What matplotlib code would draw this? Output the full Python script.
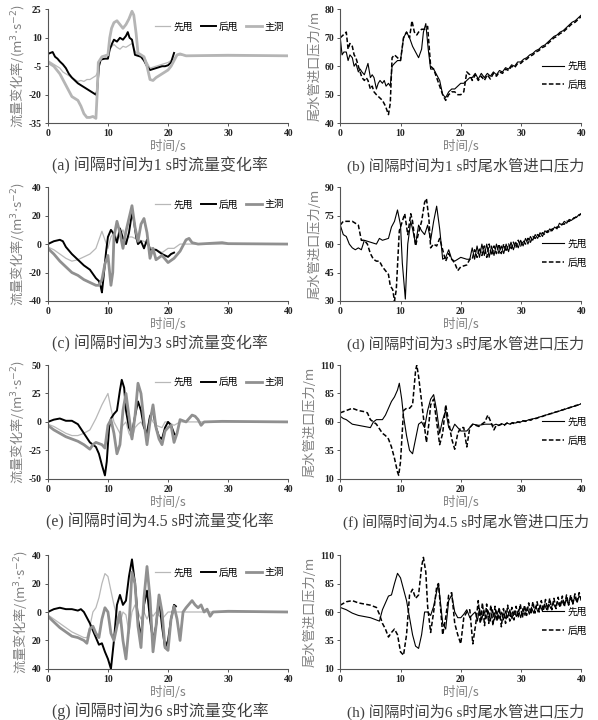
import numpy as np
import matplotlib
matplotlib.use("Agg")
import matplotlib.pyplot as plt

plt.rcParams['font.family'] = ['Noto Sans CJK SC', 'DejaVu Sans']
plt.rcParams['axes.unicode_minus'] = False

# ---- data: (t [s], value) ----
a_first = [(0,-2),(0.5,-3),(1,-4),(1.5,-5),(2,-6),(2.5,-8),(3,-9),(3.5,-10),(4,-11),(4.5,-12),(5,-13),
           (5.5,-12.5),(6,-13),(6.5,-12),(7,-12),(7.5,-11),(8,-10),(8.3,-8),(8.6,-2),(9,0),(9.5,0.5),(10,1),
           (10.5,5),(11,6.5),(11.5,5),(12,4),(12.5,5.5),(13,5),(13.5,6),(14,7),(14.5,3),(15,1),(15.5,0.5),
           (16,0),(16.5,-3),(17,-6),(17.5,-5.5),(18,-5),(18.5,-4.5),(19,-4),(19.5,-3.5),(20,-3),(20.5,-2),
           (21,-1),(21.5,1),(22,1),(23,0.5),(40,0.5)]
a_second = [(0,1.5),(0.4,2),(0.8,2.5),(1.2,0),(1.6,-1),(2,-2.5),(2.5,-4),(3,-6),(3.5,-9),(4,-11),(4.5,-12.5),
            (5,-14),(5.5,-15),(6,-16),(6.5,-17),(7,-18),(7.5,-19),(8,-20),(8.2,-18),(8.5,-5),(8.8,-1.5),
            (9.5,-1),(10,-1),(10.3,4),(10.7,7),(11,9),(11.5,8),(12,10),(12.5,9),(13,11),(13.3,13),(13.6,10),
            (14,9),(14.5,1),(15,0.5),(15.5,0),(16,-2),(16.5,-5),(17,-7),(17.5,-6.5),(18,-6),(18.5,-5.5),
            (19,-5),(19.5,-5),(20,-4.5),(20.5,-3),(21,2)]
a_main = [(0,-3),(0.5,-4),(1,-5),(1.5,-7),(2,-9),(2.5,-12),(3,-15),(3.5,-18),(4,-21),(4.5,-22),(5,-23),
          (5.5,-26),(6,-30),(6.5,-32),(7,-32),(7.5,-31.5),(8,-32.5),(8.2,-20),(8.4,-3),(9,0),(9.5,0.5),(10,1),
          (10.3,10),(10.6,15),(11,18),(11.5,19),(12,17),(12.5,15),(13,17),(13.5,20),(14,24),(14.3,22),
          (14.7,12),(15,2),(15.5,1),(16,0),(16.5,-5),(17,-12),(17.5,-12.5),(18,-11),(18.5,-10),(19,-9),
          (19.5,-8),(20,-7),(20.5,-5),(21,-2),(21.5,1),(22,1.5),(23,0.5),(30,0.8),(40,0.5)]

b_first = [(0,70),(0.3,64),(0.6,65),(1,65),(1.3,62),(1.6,64),(2,63),(2.3,60),(2.6,61),(3,58),(3.3,59),
           (3.6,58),(4,57),(4.3,59),(4.6,61),(5,56),(5.3,57),(5.6,56),(6,52),(6.3,54),(6.6,55),(7,54),
           (7.3,55),(7.6,53),(8,54),(8.3,53),(8.6,60),(9,61),(9.5,62),(10,62),(10.5,70),(11,72),(11.5,70),
           (12,67),(12.5,65),(13,63),(13.5,66),(13.8,72),(14.2,75),(14.6,66),(15,59),(15.5,59),(16,57),
           (16.5,55),(17,50),(17.5,49),(18,51),(18.5,52),(19,52),(19.5,53),(20,54),(20.5,54),(21,55),(21.5,56)]
b_first_tail = [56,57.5,55.5,57.5,56,57.5,56.5,58,57,58.5,58,59.5,59,60.5,60,61.5,61.5,62.5,63,64,64.5,
                65.5,66,67,67.5,68.5,69.5,70.5,71,72,72.5,73.5,74.5,75.5,76,77,78]
b_second = [(0,70),(0.5,71),(1,72),(1.3,66),(1.6,68),(2,67),(2.3,64),(2.6,63),(3,60),(3.3,58),(3.6,56),
            (4,55),(4.3,56),(4.6,55),(5,52),(5.3,53),(5.6,51),(6,50),(6.5,49),(7,48),(7.5,46),(8,43),
            (8.3,47),(8.6,63),(9,64),(9.5,63),(10,62),(10.5,70),(11,72),(11.5,70),(11.9,76),(12.3,72),
            (12.7,71),(13,72),(13.5,73),(14,73),(14.5,74),(15,60),(15.5,59),(16,56),(16.5,53),(17,50),
            (17.5,48),(18,50),(18.5,51),(19,51),(19.5,50),(20,50),(20.5,51),(21,58),(21.5,57)]
b_second_tail = [55,57,55,56.5,55,57,55.5,57.5,56.5,58,57.5,59,58.5,60,59.5,61,61,62,62.5,63.5,64,65,
                 65.5,66.5,67,68,69,70,70.5,71.5,72,73,74,75,75.5,76.5,77.5]

c_first = [(0,-2),(1,-4),(2,-7),(3,-10),(4,-12),(5,-11),(6,-9),(7,-7),(8,-3),(8.5,3),(9,9),(9.5,3),
           (10,-3),(10.5,5),(11,8),(11.5,4),(12,6),(12.5,10),(13,3),(13.5,5),(14,5),(15,3),(16,2),(17,-2),
           (18,-4),(19,-6),(20,-3),(21,-3),(22,0),(23,0),(40,0)]
c_second = [(0,0),(1,2),(2,3),(2.5,2),(3,-2),(4,-7),(5,-11),(6,-15),(7,-18),(8,-24),(8.5,-26),(8.8,-30),
            (9,-34),(9.3,-22),(9.7,-5),(10,5),(10.5,10),(11,7),(11.5,1),(12,11),(12.5,4),(13,0),(13.5,8),
            (14,22),(14.3,17),(14.7,5),(15,0),(15.5,2),(16,-3),(16.5,3),(17,-4),(18,-4),(19,-7),(20,-9),
            (20.5,-7),(21,-6)]
c_main = [(0,-3),(1,-7),(2,-12),(3,-16),(4,-20),(5,-22),(6,-25),(7,-27),(8,-29),(8.5,-29),(9,-25),
          (9.5,-14),(10,-8),(10.5,-29),(10.8,-20),(11,5),(11.5,16),(12,8),(12.5,-3),(13,9),(13.5,18),
          (14,27),(14.5,12),(15,2),(15.5,14),(16,18),(16.5,8),(17,-10),(17.5,-3),(18,-11),(19,-8),(20,-13),
          (21,-10),(22,-5),(23,3),(23.5,4),(24,1),(25,0),(29,1),(30,0.3),(40,0)]

d_first = [(0,70),(0.5,65),(1,64),(1.5,60),(2,58),(2.5,57),(3,58),(3.5,57),(4,62),(5,61),(6,60),(6.5,63),
           (7,62),(8,63),(8.5,69),(9,72),(9.5,78),(10,70),(10.3,50),(10.8,31),(11.2,60),(11.7,72),(12,68),
           (12.5,60),(13,70),(13.5,67),(14,65),(14.5,70),(15,62),(15.5,72),(16,80),(16.5,68),(17,52),
           (17.5,53),(18,57),(18.5,52),(19,51),(20,53),(21,52),(21.5,52)]
d_first_tail = [58,52,59,53,60,54,60,53,59,54,60,55,59,55,60,56,61,57,61,58,62,59,63,60,64,62,65,63,
                66,64,67,66,68,67,69,68,71,70,72,71,73,72.5,74,74,75.5,76]
d_second = [(0,70),(0.5,72),(1,72),(2,72),(3,70),(3.5,62),(4,62),(4.5,60),(5,55),(5.5,52),(6,51),(6.5,51),
            (7,48),(7.5,46),(8,44),(8.3,38),(8.7,36),(9,30),(9.3,36),(9.8,67),(10.3,72),(10.7,76),(11.2,65),
            (11.7,76),(12,72),(12.5,59),(13,66),(13.5,72),(14,82),(14.3,84),(14.7,74),(15,58),(15.5,60),
            (16,59),(16.5,63),(17,57),(17.5,51),(18,55),(18.5,52),(19,50),(19.5,46),(20,48),(21,49),(21.5,52)]
d_second_tail = [52,57,53,58,54,59,53,60,54,59,55,60,55,60,56,60,57,61,58,62,59,62,60,63,61,64,63,65,
                 64,66,65,67,66,68,68,69,69,70.5,70.5,72,72,73,73.5,74.5,75,76]

e_first = [(0,-2),(1,-4),(2,-7),(3,-10),(4,-12),(5,-12),(6,-10),(7,-7),(8,3),(9,15),(10,25),(10.5,12),
           (11,0),(11.5,-5),(12,-10),(12.5,-3),(13,0),(13.5,-10),(14,-15),(14.5,-5),(15,-2),(15.5,0),(16,-5),
           (16.5,-8),(17,5),(17.5,0),(18,-3),(19,-5),(19.5,0),(20,0),(21,-3),(22,0),(23,0),(40,0)]
e_second = [(0,0),(1,2),(2,3),(3,1),(4,1),(5,-2),(6,-10),(7,-18),(7.5,-20),(8,-22),(8.5,-28),(9,-38),
            (9.5,-47),(9.8,-35),(10.2,-5),(10.5,3),(11,7),(11.5,10),(12,28),(12.3,37),(12.7,30),(13,10),
            (13.5,-5),(14,-10),(14.5,5),(15,18),(15.5,10),(16,-5),(16.5,-10),(17,5),(17.5,10),(18,-5),
            (18.5,-13),(19,-15),(19.5,-5),(20,0),(20.5,-3),(21,-10),(21.3,-12)]
e_main = [(0,-3),(1,-7),(2,-10),(3,-13),(4,-15),(5,-17),(6,-20),(7,-24),(7.5,-20),(8,-18),(9,-20),
          (9.5,-23),(10,-3),(10.5,2),(11,-10),(11.5,-28),(12,-20),(12.5,10),(13,25),(13.5,5),(14,-15),
          (14.5,5),(15,34),(15.5,25),(16,0),(16.5,-20),(17,0),(17.5,15),(18,-5),(18.5,-15),(19,-20),
          (19.5,-8),(20,-5),(20.5,-3),(21,-18),(21.5,-10),(22,2),(23,0),(24,6),(24.5,5),(25,2),(25.5,-3),
          (26,0),(29,0.5),(40,0)]

f_first = [(0,65),(0.5,63),(1,62),(1.5,60),(2,58),(3,57),(4,56),(5,55),(5.5,60),(6,62),(7,62),(7.5,66),
           (8,72),(8.5,78),(9,82),(9.5,88),(9.8,94),(10.2,80),(10.5,65),(11,48),(11.5,35),(12,32),(12.5,45),
           (13,58),(13.5,60),(14,55),(14.5,70),(15,80),(15.5,84),(16,70),(16.5,50),(17,62),(17.5,70),(18,55),
           (18.5,52),(19,58),(20,52),(21,52),(21.5,55),(22,58),(23,57),(24,58),(25,58)]
f_first_tail = [57,58,57,58.5,57.5,59,58,59.5,59,60,60,61,61,62,62.5,63,63.5,64.5,65,66,66.5,67.5,68,
                69,69.5,70.5,71,72,72.5,73.5,74,75,76]
f_second = [(0,68),(1,70),(2,72),(3,70),(4,69),(4.5,68),(5,62),(5.5,60),(6,58),(7,50),(7.5,48),(8,45),
            (8.5,38),(9,28),(9.5,16),(9.7,13),(10,25),(10.5,70),(11,72),(11.5,72),(12,75),(12.5,105),
            (12.7,110),(13,100),(13.5,78),(14,55),(14.3,42),(14.7,58),(15,75),(15.5,80),(16,60),(16.5,40),
            (17,50),(17.5,75),(18,60),(18.5,45),(19,36),(19.5,50),(20,55),(20.5,55),(21,38),(21.5,55),
            (22,58),(23,56),(24,60),(24.5,66),(25,60),(25.5,53)]
f_second_tail = [57,57,58,57,59,58,59,58.5,60,59.5,61,60.5,62,61.5,63,63,64,64.5,65.5,66,67,67.5,68.5,
                 69,70,70.5,71.5,72,73,73.5,74.5,75,76]

g_first = [(0,-2),(1,-5),(2,-8),(3,-11),(4,-14),(5,-16),(6,-18),(6.5,-18),(7,-10),(7.5,0),(8,3),(8.5,10),
           (9,20),(9.5,27),(10,25),(10.5,15),(11,5),(11.5,-3),(12,-8),(12.5,0),(13,-2),(13.5,-15),(14,0),
           (14.5,5),(15,0),(15.5,-5),(16,0),(16.5,-5),(17,0),(17.5,-3),(18,0),(19,-5),(20,0),(21,0),(22,0),
           (40,0)]
g_second = [(0,0),(1,2),(2,3),(3,2),(4,2),(5,1),(5.5,2),(6,0),(7,-8),(7.5,-13),(8,-18),(8.5,-23),(9,-22),
            (9.5,-28),(10,-33),(10.5,-40),(11,-20),(11.5,5),(12,12),(12.5,5),(13,8),(13.5,25),(14,37),
            (14.5,20),(15,-5),(15.5,-18),(16,5),(16.5,15),(17,-5),(17.5,-20),(18,-10),(18.5,10),(19,-10),
            (19.5,-25),(20,-20),(20.5,-5),(21,5),(21.3,4)]
g_main = [(0,-3),(1,-7),(2,-11),(3,-14),(4,-17),(5,-18),(6,-20),(6.5,-22),(7,-12),(7.5,-10),(8,-15),
          (8.5,-18),(9,-5),(9.5,3),(10,0),(10.5,-15),(11,-20),(11.5,-10),(12,0),(12.5,-20),(13,-33),
          (13.5,-10),(14,28),(14.5,20),(15,-10),(15.5,-25),(16,10),(16.5,32),(17,10),(17.5,-28),(18,-10),
          (18.5,12),(19,0),(19.5,-25),(20,-27),(20.5,-5),(21,4),(21.5,-5),(22,-20),(22.5,0),(23,3),(24,8),
          (24.5,5),(25,3),(25.5,5),(26,0),(26.5,2),(27,-3),(27.5,0),(30,0.5),(40,0)]

h_first = [(0,64),(1,62),(2,59),(3,57),(4,56),(5,55),(6,53),(6.5,52),(7,62),(7.5,68),(8,74),(8.5,75),
           (9,85),(9.5,94),(10,90),(10.5,80),(11,70),(11.5,55),(12,40),(12.5,30),(13,28),(13.5,40),(14,60),
           (14.5,60),(15,57),(15.5,65),(16,78),(16.3,85),(16.7,65),(17,50),(17.5,45),(18,70),(18.5,75),
           (19,60),(19.5,55),(20,55),(20.5,58),(21,62),(21.5,55),(22,58)]
h_first_tail = [60,52,63,53,62,54,61,52,62,53,61,54,60,53,61,55,62,54,61,56,62,55,63,57,64,58,64,59,65,
                60,66,61,67,62,67,63,68,64,69,65,70,66,71,67,72,68,73,69,74,72]
h_second = [(0,66),(1,69),(2,70),(3,68),(4,67),(5,66),(6,64),(6.5,58),(7,50),(7.5,45),(8,38),(8.5,42),
            (9,45),(9.5,40),(10,25),(10.5,22),(11,40),(11.5,75),(12,80),(12.5,72),(13,75),(13.5,100),
            (13.8,108),(14.2,95),(14.5,65),(15,42),(15.5,60),(16,82),(16.3,85),(16.7,60),(17,40),(17.5,55),
            (18,75),(18.5,77),(19,50),(19.5,40),(20,32),(20.5,55),(21,60),(21.5,62),(22,32),(22.5,50)]
h_second_tail = [70,50,68,48,67,50,66,48,65,52,64,47,63,50,66,52,64,53,65,55,67,55,66,57,68,58,69,59,69,
                 60,70,61,71,62,72,62,72,63,73,64,74,65,75,66,75,67,76,68,77,70]

flow_ylims = [(-35, 25), (-40, 40), (-50, 50), (-40, 40)]
flow_yticks = [[-35, -20, -5, 10, 25], [-40, -20, 0, 20, 40], [-50, -25, 0, 25, 50], [-40, -20, 0, 20, 40]]
flow_ylabels = [None, None, None, ['40', '20', '0', '20', '40']]
pres_ylims = [(40, 80), (30, 90), (10, 110), (10, 110)]
pres_yticks = [[40, 50, 60, 70, 80], [30, 45, 60, 75, 90], [10, 35, 60, 85, 110], [10, 35, 60, 85, 110]]
intervals = ['1', '3', '4.5', '6']
letters_l = ['a', 'c', 'e', 'g']
letters_r = ['b', 'd', 'f', 'h']


def split(pairs, tail=None, t_end=40):
    t, v = zip(*pairs)
    t = list(t)
    v = list(v)
    if tail is not None:
        t0 = t[-1] + 0.4
        t += list(np.linspace(t0, t_end, len(tail)))
        v += list(tail)
    return np.array(t), np.array(v)


flows = [(a_first, a_second, a_main), (c_first, c_second, c_main),
         (e_first, e_second, e_main), (g_first, g_second, g_main)]
pressures = [(b_first, b_first_tail, b_second, b_second_tail),
             (d_first, d_first_tail, d_second, d_second_tail),
             (f_first, f_first_tail, f_second, f_second_tail),
             (h_first, h_first_tail, h_second, h_second_tail)]

fig = plt.figure(figsize=(5.98, 7.2), dpi=100)
bottoms = [0.829, 0.582, 0.335, 0.071]
cap_family = ['Liberation Serif', 'Noto Sans CJK SC']


def style(ax, ylim, yticks, ylabels=None):
    for s in ['top', 'right']:
        ax.spines[s].set_visible(False)
    for s in ['left', 'bottom']:
        ax.spines[s].set_color('#555555')
        ax.spines[s].set_linewidth(0.8)
    ax.set_xlim(0, 40)
    ax.set_ylim(*ylim)
    ax.set_xticks([0, 10, 20, 30, 40])
    ax.set_yticks(yticks)
    if ylabels is not None:
        ax.set_yticklabels(ylabels)
    ax.tick_params(direction='out', length=2.5, width=0.7, colors='#555555', pad=2)
    for lab in ax.get_xticklabels() + ax.get_yticklabels():
        lab.set_fontfamily('Liberation Serif')
        lab.set_fontweight('bold')
        lab.set_fontsize(7)
        lab.set_color('#222222')
    ax.text(0.5, -0.205, '时间/s', transform=ax.transAxes, ha='center', va='center',
            fontsize=9, color='#808080')


for i in range(4):
    # flow rate panels
    ax = fig.add_axes([0.080, bottoms[i], 0.402, 0.158])
    first, second, main = flows[i]
    main_color = '#b5b5b5' if i == 0 else '#909090'
    t, v = split(first)
    ax.plot(t, v, color='#b8b8b8', lw=0.9, label='先甩')
    t, v = split(second)
    ax.plot(t, v, color='black', lw=1.4, label='后甩')
    t, v = split(main)
    ax.plot(t, v, color=main_color, lw=2.0, label='主洞')
    style(ax, flow_ylims[i], flow_yticks[i], flow_ylabels[i])
    ax.set_ylabel(r'流量变化率/(m$^{3}{\cdot}$s$^{-2}$)', fontsize=9.5, color='#808080', labelpad=2)
    ax.legend(loc='upper right', bbox_to_anchor=(1.02, 0.97), ncol=3, frameon=False, fontsize=7,
              handlelength=1.6, handletextpad=0.3, columnspacing=0.8)
    ax.text(0.467, -0.375, f'({letters_l[i]}) 间隔时间为{intervals[i]} s时流量变化率', transform=ax.transAxes,
            ha='center', va='center', fontsize=11.5, color='#404040', family=cap_family)

    # draft tube inlet pressure panels
    ax = fig.add_axes([0.569, bottoms[i], 0.403, 0.158])
    first, first_tail, second, second_tail = pressures[i]
    t, v = split(first, first_tail)
    ax.plot(t, v, color='black', lw=0.8, label='先甩')
    t, v = split(second, second_tail)
    ax.plot(t, v, color='black', lw=1.1, ls=(0, (3, 1.5)), label='后甩')
    style(ax, pres_ylims[i], pres_yticks[i])
    ax.set_ylabel('尾水管进口压力/m', fontsize=9.5, color='#808080', labelpad=2)
    ax.legend(loc='center right', bbox_to_anchor=(1.06, 0.42), frameon=False, fontsize=7,
              handlelength=2.2, handletextpad=0.4, labelspacing=0.9)
    ax.text(0.52, -0.375, f'({letters_r[i]}) 间隔时间为{intervals[i]} s时尾水管进口压力', transform=ax.transAxes,
            ha='center', va='center', fontsize=11, color='#404040', family=cap_family)

fig.savefig('out.png', dpi=100, facecolor='white')
